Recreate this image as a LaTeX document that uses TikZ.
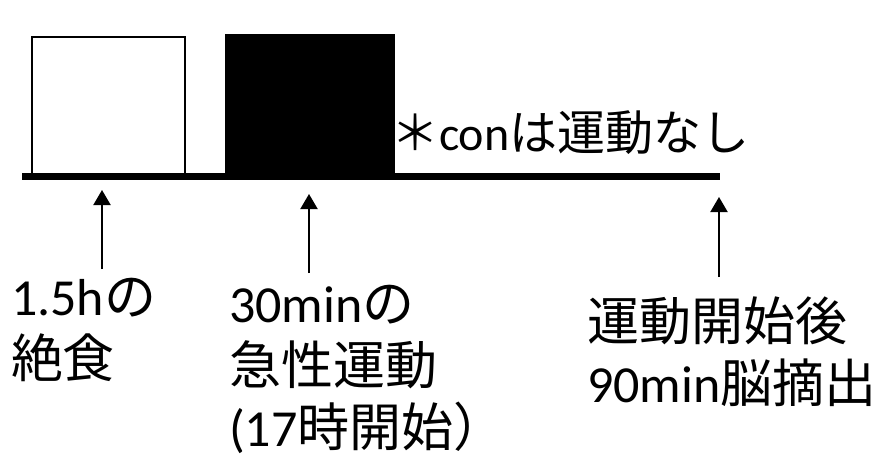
\documentclass[tikz,border=0pt]{standalone}
\usepackage{fontspec}
\setmainfont{Carlito}
\newfontfamily\jp{Noto Sans CJK JP}
\usetikzlibrary{arrows.meta}
\begin{document}
\begin{tikzpicture}[x=1pt,y=-1pt,
  lbl/.style={anchor=base west, inner sep=0pt, outer sep=0pt, align=left, font=\fontsize{52}{62}\selectfont},
  notelbl/.style={anchor=base west, inner sep=0pt, outer sep=0pt, font=\fontsize{48}{56}\selectfont},
  up/.style={-{Triangle[width=17pt,length=15pt]}, line width=2pt},
  timeline/.style={line width=7pt},
  fastbox/.style={draw=black, fill=white, line width=2.5pt, inner sep=0pt, anchor=south west},
  exbox/.style={fill=black, inner sep=0pt, anchor=south west}]
\useasboundingbox (0,0) rectangle (884,458);
\fill[white] (0,0) rectangle (884,458);
% boxes
\node[fastbox, minimum width=153pt, minimum height=138pt] (fast) at (30.5,176) {};
\node[exbox, minimum width=170pt, minimum height=142pt] (ex) at (225,176) {};
% timeline
\coordinate (ls) at (22,176);
\coordinate (le) at (720,176);
\draw[timeline] (ls) -- (le);
% note
\node[notelbl] (note) at (391,150) {{\jp ＊}con{\jp は運動なし}};
% arrows
\coordinate (a1s) at (102,269);
\coordinate (a1e) at (102,190);
\coordinate (a2s) at (309,273);
\coordinate (a2e) at (309,194);
\coordinate (a3s) at (719,277);
\coordinate (a3e) at (719,197);
\draw[up] (a1s) -- (a1e);
\draw[up] (a2s) -- (a2e);
\draw[up] (a3s) -- (a3e);
% labels (anchored at the baseline of the last line)
\node[lbl] (t1) at (11,377) {1.5h{\jp の}\\{\jp 絶食}};
\node[lbl] (t2) at (229,446) {30min{\jp の}\\{\jp 急性運動}\\(17{\jp 時開始）}};
\node[lbl] (t3) at (587,402) {{\jp 運動開始後}\\90min{\jp 脳摘出}};
\end{tikzpicture}
\end{document}
